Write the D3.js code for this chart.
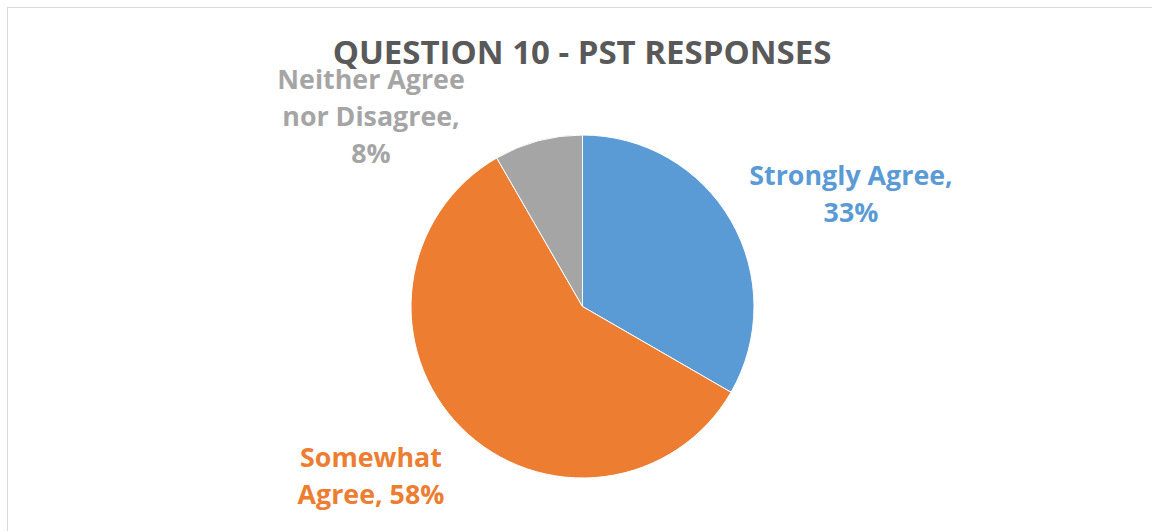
<!DOCTYPE html>
<html>
<head>
<meta charset="utf-8">
<script src="https://cdn.jsdelivr.net/npm/d3@7"></script>
<style>
  body { margin: 0; background: #fff; }
  svg { display: block; }
  text { font-family: "Open Sans", "Noto Sans", sans-serif; font-weight: bold; }
</style>
</head>
<body>
<div id="chart-area"></div>
<script>

// Data: share of PST responses (4 / 7 / 1 of 12 respondents)
var categories = ["Strongly Agree", "Somewhat Agree", "Neither Agree nor Disagree"];
var values = [4, 7, 1];
var pctLabels = ["33%", "58%", "8%"];
var colors = ["#5B9BD5", "#ED7D31", "#A5A5A5"];

var width = 1152, height = 531;
var cx = 582.5, cy = 306.5, radius = 171.5;

var svg = d3.select("#chart-area")
    .append("svg")
        .attr("width", width)
        .attr("height", height);

// chart frame (only top / left edge visible)
svg.append("rect")
    .attr("x", 7.5)
    .attr("y", 7.5)
    .attr("width", width)
    .attr("height", height)
    .attr("fill", "none")
    .attr("stroke", "#d9d9d9")
    .attr("stroke-width", 1);

var color = d3.scaleOrdinal()
    .domain(categories)
    .range(colors);

var pie = d3.pie()
    .sort(null)
    .value(function(d){ return d.value; });

var arc = d3.arc()
    .innerRadius(0)
    .outerRadius(radius);

var data = categories.map(function(c, i){
    return { name: c, value: values[i], pct: pctLabels[i] };
});

var g = svg.append("g")
    .attr("transform", "translate(" + cx + ", " + cy + ")");

g.selectAll("path")
    .data(pie(data))
    .enter()
    .append("path")
        .attr("d", arc)
        .attr("fill", function(d){ return color(d.data.name); })
        .attr("stroke", "#fff")
        .attr("stroke-width", 1);

// Data labels, placed outside slices like the original
var labelLines = [
    ["Strongly Agree,", pctLabels[0]],
    ["Somewhat", "Agree, " + pctLabels[1]],
    ["Neither Agree", "nor Disagree,", pctLabels[2]]
];
var labelPos = [
    { x: 851, y: 185 },
    { x: 371, y: 467 },
    { x: 371, y: 89 }
];
var lineHeight = 37;

labelLines.forEach(function(lines, i){
    var t = svg.append("text")
        .attr("text-anchor", "middle")
        .attr("font-size", "26.8px")
        .attr("fill", color(categories[i]));
    lines.forEach(function(l, j){
        t.append("tspan")
            .attr("x", labelPos[i].x)
            .attr("y", labelPos[i].y + j * lineHeight)
            .text(l);
    });
});

// Title (drawn last, sits over the top label as in the original)
svg.append("text")
    .attr("x", 582)
    .attr("y", 64)
    .attr("text-anchor", "middle")
    .attr("font-size", "33px")
    .attr("fill", "#595959")
    .text("QUESTION 10 - PST RESPONSES");

</script>
</body>
</html>
